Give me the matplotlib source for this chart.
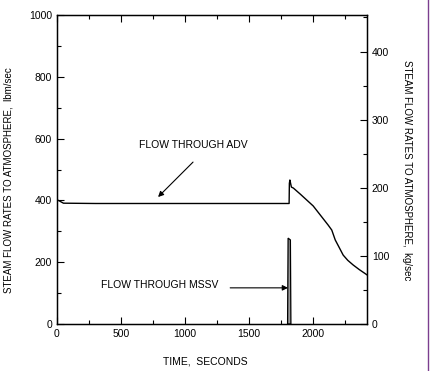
import numpy as np
import matplotlib
matplotlib.use('Agg')
import matplotlib.pyplot as plt
from matplotlib.ticker import MultipleLocator

plt.rcParams['font.family'] = ['Liberation Sans', 'DejaVu Sans']

# ADV flow (lbm/sec)
adv_time = [0, 20, 50, 300, 1000, 1500, 1812, 1814, 1818, 1830, 1845, 1900,
            2000, 2117, 2145, 2172, 2200, 2234, 2270, 2312, 2360, 2420]
adv_flow = [402, 398, 391, 390, 390, 390, 390, 455, 466, 443, 440, 420,
            382, 320, 304, 272, 250, 223, 206, 191, 176, 159]

# MSSV flow (lbm/sec)
mssv_time = [1800, 1804, 1822, 1826]
mssv_flow = [0, 278, 272, 0]

x_ticks = [0, 500, 1000, 1500, 2000]
left_ticks = [0, 200, 400, 600, 800, 1000]
right_ticks = [0, 100, 200, 300, 400]
LBM_TO_KG = 0.45359

fig = plt.figure(figsize=(4.32, 3.71), dpi=100)
ax = fig.add_axes([57 / 432, 1 - 324 / 371, 310 / 432, 309 / 371])

ax.plot(adv_time, adv_flow, color='black', lw=1.0)
ax.fill(mssv_time, mssv_flow, facecolor='#9a9a9a', edgecolor='black', lw=0.9)

ax.set_xlim(0, 2420)
ax.set_ylim(0, 1000)
ax.set_xticks(x_ticks)
ax.set_yticks(left_ticks)
ax.xaxis.set_minor_locator(MultipleLocator(250))
ax.yaxis.set_minor_locator(MultipleLocator(100))
ax.tick_params(axis='both', which='major', direction='in', length=5, width=0.8,
               labelsize=7.5, top=True, right=False)
ax.tick_params(axis='both', which='minor', direction='in', length=3, width=0.8,
               top=True, right=False)
for s in ax.spines.values():
    s.set_linewidth(1.0)

ax2 = ax.twinx()
ax2.set_ylim(0, 1000 * LBM_TO_KG)
ax2.set_yticks(right_ticks)
ax2.yaxis.set_minor_locator(MultipleLocator(50))
ax2.tick_params(axis='y', which='major', direction='in', length=5, width=0.8, labelsize=7.5)
ax2.tick_params(axis='y', which='minor', direction='in', length=3, width=0.8)

fig.text(205 / 432, 1 - 362 / 371, 'TIME,  SECONDS', fontsize=7.5,
         ha='center', va='center')
fig.text(9 / 432, 1 - 180 / 371, 'STEAM FLOW RATES TO ATMOSPHERE,  lbm/sec',
         fontsize=7, rotation=90, ha='center', va='center')
fig.text(407 / 432, 1 - 170 / 371, 'STEAM FLOW RATES TO ATMOSPHERE,  kg/sec',
         fontsize=7, rotation=-90, ha='center', va='center')

ax.text(1064, 579, 'FLOW THROUGH ADV', fontsize=7.5, ha='center', va='center')
ax.annotate('', xy=(789, 411), xytext=(1062, 524),
            arrowprops=dict(arrowstyle='-|>', color='black', lw=0.8,
                            mutation_scale=8, shrinkA=0, shrinkB=0))
ax.text(805, 126, 'FLOW THROUGH MSSV', fontsize=7.5, ha='center', va='center')
ax.annotate('', xy=(1803, 117), xytext=(1352, 117),
            arrowprops=dict(arrowstyle='-|>', color='black', lw=0.8,
                            mutation_scale=8, shrinkA=0, shrinkB=0))

# purple scan border on the right
fig.add_artist(plt.Line2D([428 / 432, 428 / 432], [0, 1], color='#7b3f8f', lw=1.0,
                          transform=fig.transFigure))

fig.savefig('out.png', dpi=100)
